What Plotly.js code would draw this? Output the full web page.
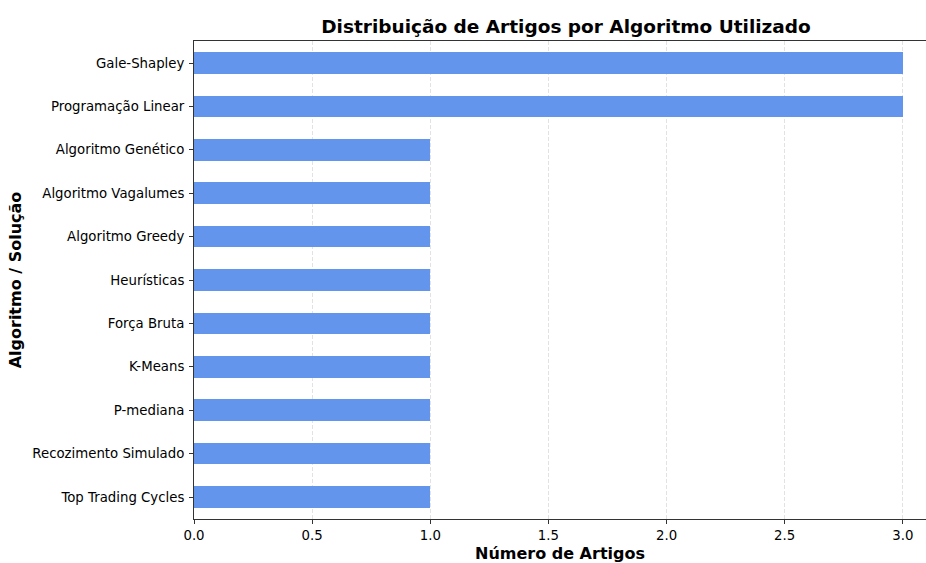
<!DOCTYPE html>
<html>
<head>
<meta charset="utf-8">
<script src="https://cdn.plot.ly/plotly-3.0.1.min.js"></script>
<style>html,body{margin:0;padding:0;background:#fff;}#chart{width:926px;height:563px;}</style>
</head>
<body>
<div id="chart"></div>
<script>
const categories = ["Gale-Shapley","Programação Linear","Algoritmo Genético","Algoritmo Vagalumes","Algoritmo Greedy","Heurísticas","Força Bruta","K-Means","P-mediana","Recozimento Simulado","Top Trading Cycles"];
const counts = [3,3,1,1,1,1,1,1,1,1,1];
const xTicks = [0,0.5,1,1.5,2,2.5,3];
const xTickLabels = ["0.0","0.5","1.0","1.5","2.0","2.5","3.0"];

const font = "DejaVu Sans, sans-serif";
const trace = {
  type: "bar",
  orientation: "h",
  x: counts,
  y: categories,
  width: 0.5,
  marker: {color: "#6495ED", line: {width: 0}},
  hoverinfo: "x+y"
};
const layout = {
  width: 926, height: 563,
  margin: {l: 194, r: 0, t: 41, b: 44, pad: 0},
  paper_bgcolor: "#fff", plot_bgcolor: "#fff",
  showlegend: false,
  bargap: 0,
  font: {family: font, size: 13, color: "#000"},
  title: {text: "<b>Distribuição de Artigos por Algoritmo Utilizado</b>", font: {family: font, size: 18.5, color: "#000"}, x: 566/926, xanchor: "center", xref: "container", y: 1 - 27/563, yanchor: "middle", yref: "container"},
  xaxis: {
    range: [0, 3.098], tickvals: xTicks, ticktext: xTickLabels,
    showgrid: true, gridcolor: "#e2e2e2", griddash: "4px,2px", gridwidth: 1,
    showline: true, linecolor: "#333", linewidth: 1, mirror: true,
    ticks: "outside", ticklen: 4, tickcolor: "#333", tickfont: {family: font, size: 13.3, color: "#000"},
    zeroline: false, automargin: false,
    title: {text: "<b>Número de Artigos</b>", font: {family: font, size: 16, color: "#000"}, standoff: 5}
  },
  yaxis: {
    type: "category", categoryorder: "array", categoryarray: categories.slice().reverse(),
    range: [-0.507, 10.507],
    showgrid: false, zeroline: false,
    showline: true, linecolor: "#333", linewidth: 1,
    ticks: "outside", ticklen: 4, tickcolor: "#333", tickfont: {family: font, size: 13.3, color: "#000"},
    ticklabelstandoff: 2,
    automargin: false,
    title: {text: "<b>Algoritmo / Solução</b>", font: {family: font, size: 16, color: "#000"}, standoff: 6}
  }
};
Plotly.newPlot("chart", [trace], layout, {displayModeBar: false, staticPlot: true});
</script>
</body>
</html>
